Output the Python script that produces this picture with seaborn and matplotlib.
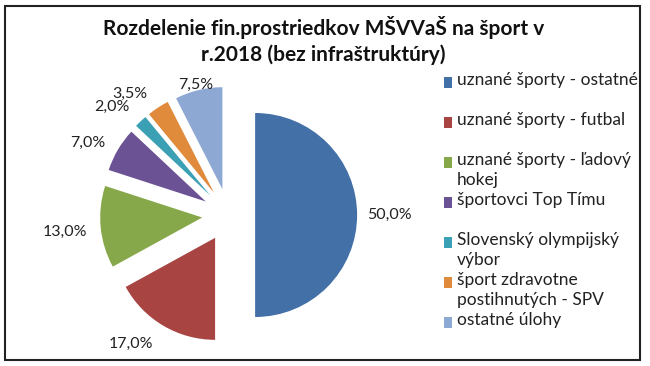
import textwrap
import matplotlib
matplotlib.use('Agg')
import matplotlib.pyplot as plt
import seaborn as sns
from matplotlib.patches import Rectangle
import numpy as np

# Data
categories = ['uznané športy - ostatné', 'uznané športy - futbal',
              'uznané športy - ľadový hokej', 'športovci Top Tímu',
              'Slovenský olympijský výbor', 'šport zdravotne postihnutých - SPV',
              'ostatné úlohy']
shares = [50.0, 17.0, 13.0, 7.0, 2.0, 3.5, 7.5]
colors = ['#4470A8', '#A84441', '#86A84A', '#6B5295', '#3CA0B5', '#E08A3C', '#8EA8D4']
title = 'Rozdelenie fin.prostriedkov MŠVVaŠ na šport v\nr.2018 (bez infraštruktúry)'

sns.set_theme(style='white')
plt.rcParams['font.family'] = ['Lato', 'DejaVu Sans']

W, H = 650, 366
fig = plt.figure(figsize=(W / 100, H / 100), dpi=100)
ax = fig.add_axes([0, 0, 1, 1])

# pie geometry in pixels
R = 102.0
cx, cy = 228.6, 215.0
wedges, texts, autotexts = ax.pie(
    shares, colors=colors, startangle=90, counterclock=False,
    explode=[0.26] * len(shares), radius=1.0,
    autopct=lambda p: f'{p:.1f}%'.replace('.', ','), pctdistance=1.3,
    wedgeprops=dict(linewidth=0), textprops=dict(fontsize=11.5, color='#222222'))
ax.set_xlim(-cx / R, (W - cx) / R)
ax.set_ylim(-(H - cy) / R, cy / R)
ax.set_aspect('auto')
ax.axis('off')

# label placement per slice (distance from exploded centre, angle tweak) - "best fit"
label_dist = [1.32, 1.33, 1.35, 1.29, 1.30, 1.27, 1.05]
label_turn = [0, -8, 0.6, 4.2, 4.8, 7.1, 0.7]
for w, t, d, a in zip(wedges, autotexts, label_dist, label_turn):
    ang = np.deg2rad((w.theta1 + w.theta2) / 2 + a)
    x0, y0 = w.center
    t.set_position((x0 + d * np.cos(ang), y0 + d * np.sin(ang)))

# title
fig.text(0.498, 1 - 16 / H, title, ha='center', va='top', fontsize=15,
         fontweight='bold', color='#111111', linespacing=1.32)

# legend (entries on a fixed 40 px pitch)
for i, (lab, col) in enumerate(zip(categories, colors)):
    ytop = 72 + i * 40
    fig.patches.append(Rectangle((444 / W, 1 - (ytop + 16) / H), 8 / W, 11 / H,
                                 transform=fig.transFigure, facecolor=col,
                                 edgecolor='none'))
    fig.text(457 / W, 1 - ytop / H, textwrap.fill(lab, 23), ha='left', va='top',
             fontsize=12.5, color='#222222', linespacing=1.32)

# chart frame
fig.patches.append(Rectangle((5 / W, 1 - 360 / H), 635 / W, 354 / H,
                             transform=fig.transFigure, fill=False,
                             edgecolor='#222222', linewidth=1.5))

fig.savefig('out.png', dpi=100)
